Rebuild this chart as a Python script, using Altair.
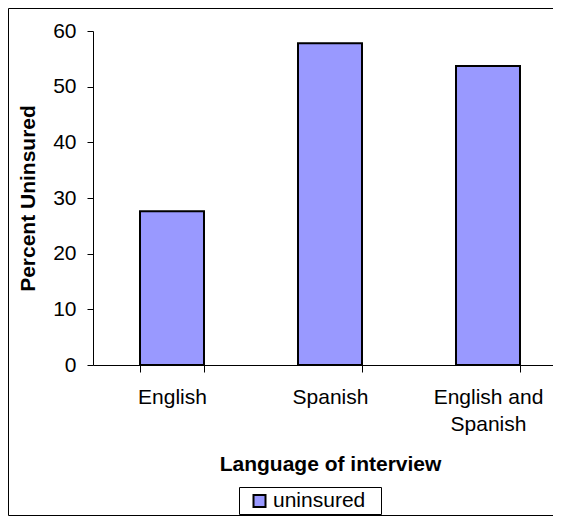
import altair as alt
import pandas as pd

categories = ["English", "Spanish", "English and Spanish"]
values = [27.6, 57.8, 53.7]
series = ["uninsured"] * 3

df = pd.DataFrame({"language": categories, "pct": values, "series": series})

FONT = "Liberation Sans"
one = alt.Data(values=[{"a": 1}])

# outer chart frame (decoration); right side lies beyond the visible window
frame_top = alt.Chart(one).mark_rule(color="black", strokeWidth=1).encode(
    x=alt.value(-84.5), x2=alt.value(470), y=alt.value(-22.5)
)
frame_bottom = alt.Chart(one).mark_rule(color="black", strokeWidth=1).encode(
    x=alt.value(-84.5), x2=alt.value(470), y=alt.value(484.5)
)
frame_left = alt.Chart(one).mark_rule(color="black", strokeWidth=1).encode(
    x=alt.value(-84.5), y=alt.value(-22.5), y2=alt.value(484.5)
)

# legend box (decoration)
legend_box = alt.Chart(one).mark_rect(
    fill="white", stroke="black", strokeWidth=1
).encode(
    x=alt.value(146.5), x2=alt.value(288.5),
    y=alt.value(456.5), y2=alt.value(483.5),
)

bars = alt.Chart(df).mark_bar(stroke="black", strokeWidth=2).encode(
    x=alt.X(
        "language:N",
        sort=categories,
        scale=alt.Scale(range=[0, 474], paddingInner=0.595, paddingOuter=0.2975),
        axis=alt.Axis(
            title="Language of interview",
            labelAngle=0,
            labelExpr="datum.label == 'English and Spanish' ? ['English and', 'Spanish'] : datum.label",
            labelBaseline="alphabetic",
            labelPadding=31,
            labelLineHeight=27,
            labelFontSize=21,
            tickSize=7,
            tickBand="extent",
            titleX=237,
            titleY=105,
            titleBaseline="alphabetic",
            titleAlign="center",
            titleFontSize=21,
            titleFontWeight="bold",
        ),
    ),
    y=alt.Y(
        "pct:Q",
        scale=alt.Scale(domain=[0, 60], nice=False),
        axis=alt.Axis(
            title="Percent Uninsured",
            values=[0, 10, 20, 30, 40, 50, 60],
            tickSize=6,
            labelPadding=11,
            labelFontSize=21,
            grid=False,
            titleAngle=270,
            titleX=-59,
            titleY=167,
            titleBaseline="alphabetic",
            titleAlign="center",
            titleFontSize=21,
            titleFontWeight="bold",
        ),
    ),
    color=alt.Color(
        "series:N",
        scale=alt.Scale(domain=["uninsured"], range=["#9999FF"]),
        legend=alt.Legend(
            title=None,
            orient="none",
            legendX=156,
            legendY=459.5,
            padding=0,
            symbolType="square",
            symbolSize=144,
            symbolStrokeColor="black",
            symbolStrokeWidth=2,
            labelFontSize=21,
            labelOffset=3,
            labelColor="black",
        ),
    ),
)

chart = alt.layer(frame_top, frame_bottom, frame_left, legend_box, bars).properties(
    width=460,
    height=334,
    autosize=alt.AutoSizeParams(type="none"),
    padding={"left": 85, "top": 23, "right": 0, "bottom": 151},
).configure(
    font=FONT,
    background="white",
).configure_view(
    stroke="transparent",
    strokeWidth=0,
).configure_axis(
    domainColor="black",
    tickColor="black",
    labelColor="black",
    titleColor="black",
    labelFont=FONT,
    titleFont=FONT,
).configure_legend(
    labelFont=FONT,
)

chart.save("out.html", embed_options={"renderer": "svg", "actions": False})
